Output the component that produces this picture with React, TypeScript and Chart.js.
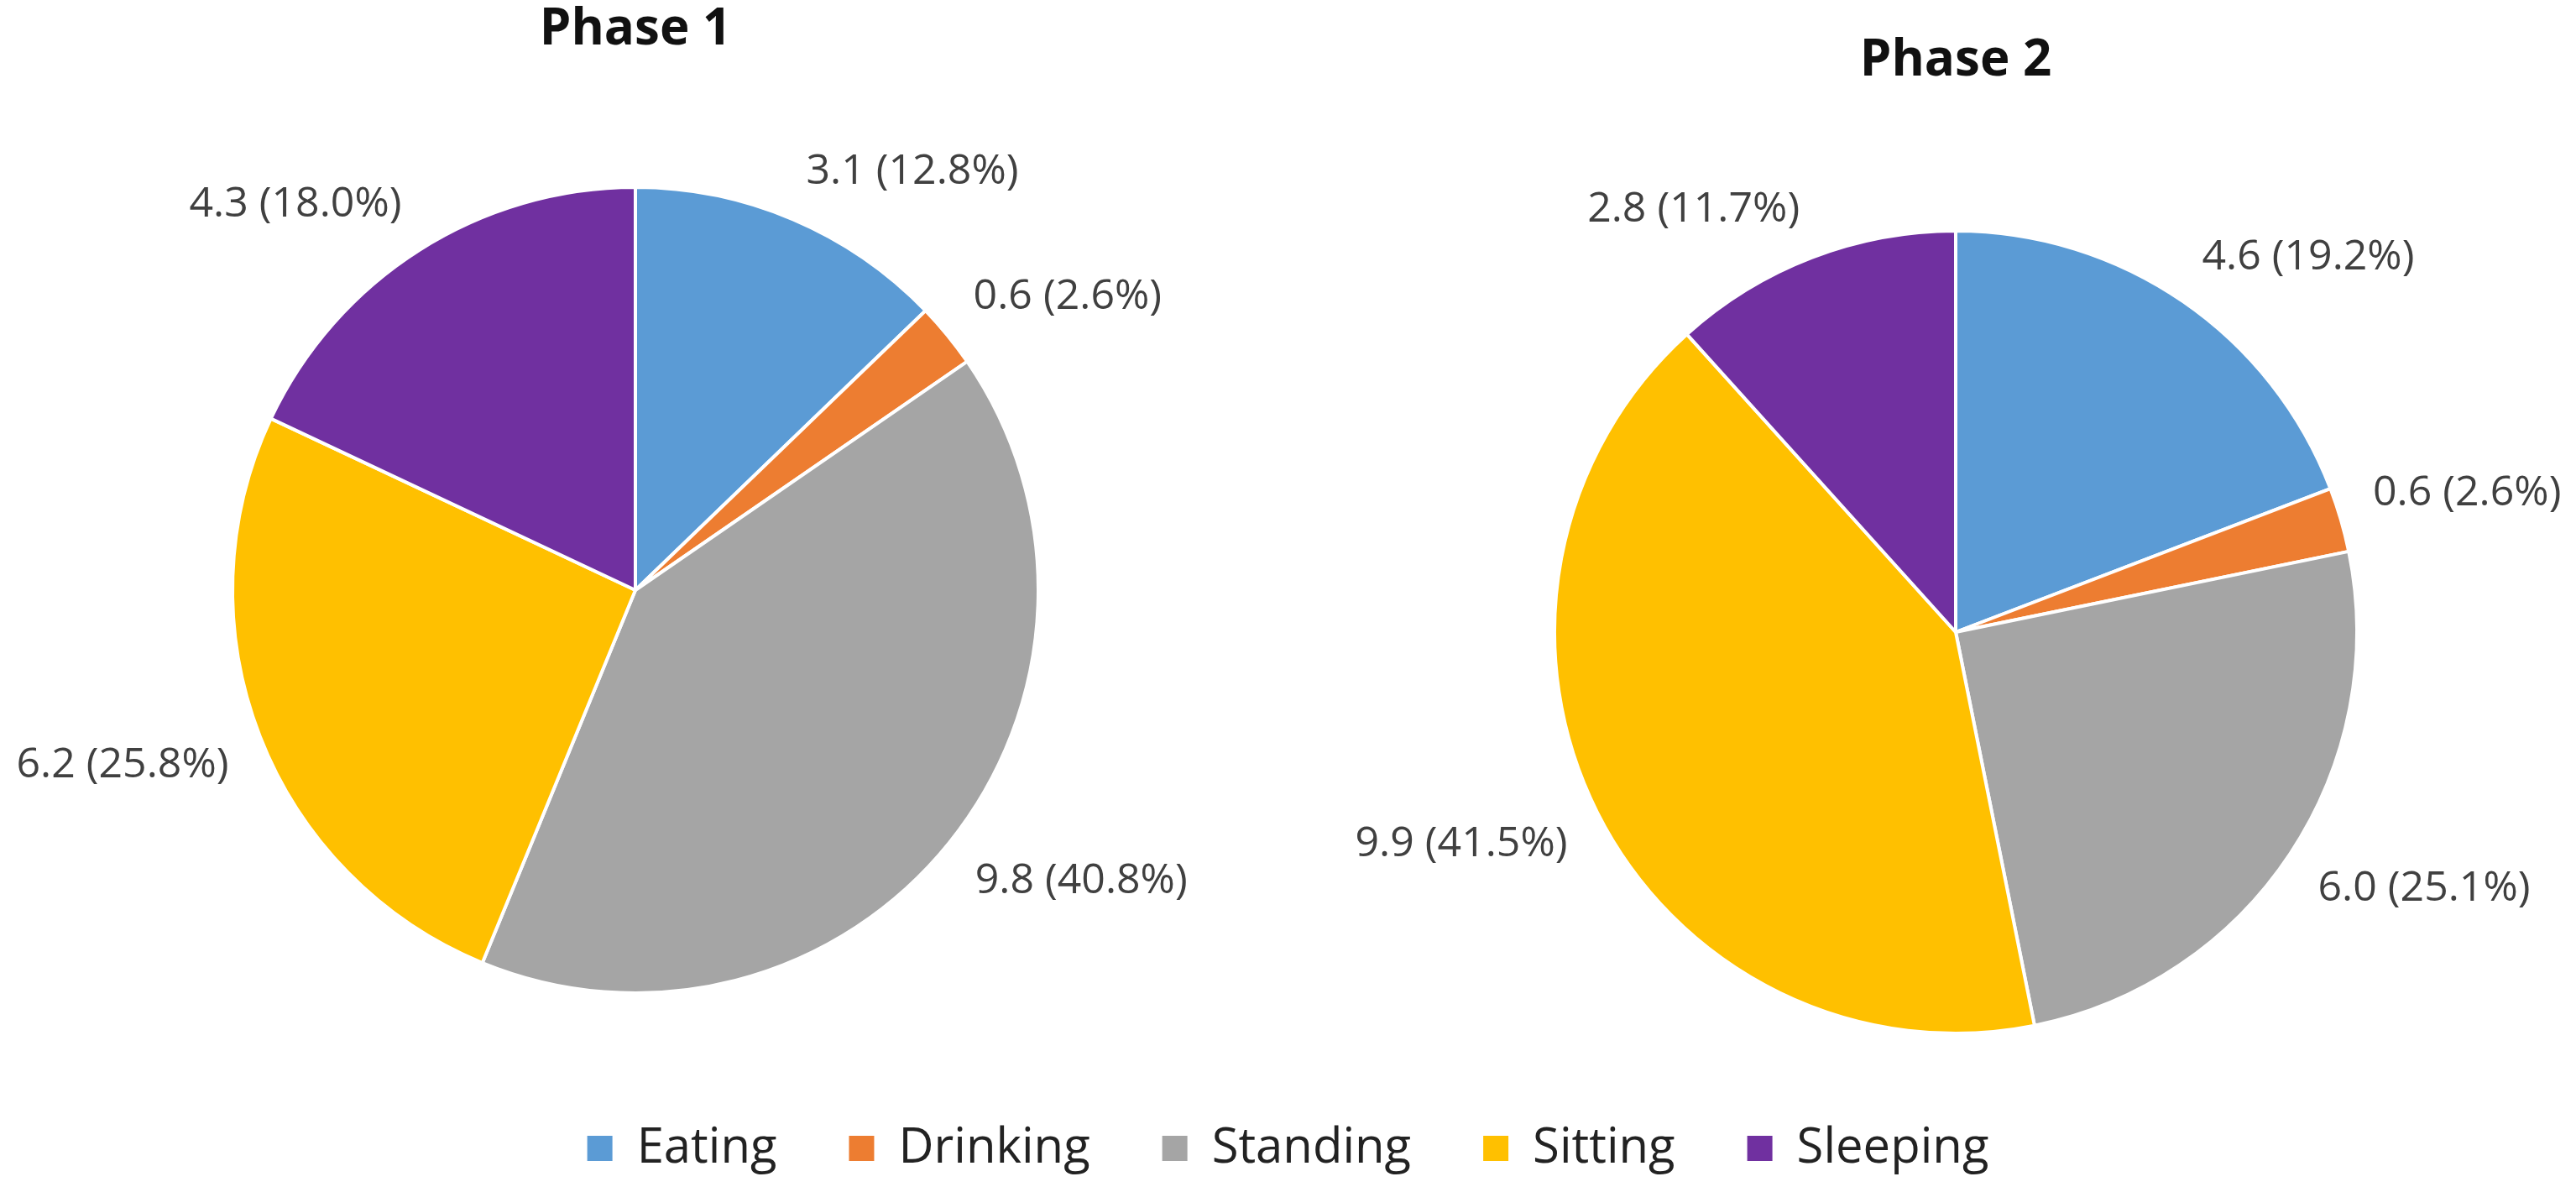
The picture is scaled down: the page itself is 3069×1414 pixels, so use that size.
import React, { useEffect, useRef } from "react";
import { Chart, ArcElement, PieController, Title, Legend } from "chart.js";

Chart.register(ArcElement, PieController, Title, Legend);

// categories and colours shared by both pies
const categories = ["Eating", "Drinking", "Standing", "Sitting", "Sleeping"];
const colors = ["#5B9BD5", "#ED7D31", "#A5A5A5", "#FFC000", "#7030A0"];

// hours per day and share of the day
const phase1Hours = [3.1, 0.6, 9.8, 6.2, 4.3];
const phase1Pct = [12.8, 2.6, 40.8, 25.8, 18.0];
const phase2Hours = [4.6, 0.6, 6.0, 9.9, 2.8];
const phase2Pct = [19.2, 2.6, 25.1, 41.5, 11.7];

const FONT = "'Open Sans', 'Noto Sans', sans-serif";

// labels outside each slice, "hours (pct%)"
const outsideLabels = {
  id: "outsideLabels",
  afterDatasetsDraw(chart: any, _args: any, opts: any) {
    const { ctx } = chart;
    const meta = chart.getDatasetMeta(0);
    ctx.save();
    ctx.font = `50px ${FONT}`;
    ctx.fillStyle = "#404040";
    ctx.textBaseline = "middle";
    meta.data.forEach((arc: any, i: number) => {
      const { x, y, startAngle, endAngle, outerRadius } = arc.getProps(
        ["x", "y", "startAngle", "endAngle", "outerRadius"],
        true
      );
      const mid = (startAngle + endAngle) / 2;
      const r = outerRadius * 1.083;
      const px = x + r * Math.cos(mid);
      const py = y + r * Math.sin(mid);
      ctx.textAlign = Math.cos(mid) >= 0 ? "left" : "right";
      const ty = Math.sin(mid) < 0 ? py - 20 : py + 20;
      const text = `${opts.hours[i].toFixed(1)} (${opts.pct[i].toFixed(1)}%)`;
      ctx.fillText(text, px, ty);
    });
    ctx.restore();
  }
};

const makePie = (
  canvas: HTMLCanvasElement,
  title: string,
  hours: number[],
  pct: number[],
  padTop: number,
  padBottom: number
) =>
  new Chart(canvas, {
    type: "pie",
    data: {
      labels: categories,
      datasets: [
        {
          data: pct,
          backgroundColor: colors,
          borderColor: "#ffffff",
          borderWidth: 4
        }
      ]
    },
    options: {
      animation: false,
      responsive: true,
      maintainAspectRatio: false,
      events: [],
      plugins: {
        legend: { display: false },
        title: {
          display: true,
          text: title,
          color: "#111111",
          font: { family: FONT, size: 60, weight: "bold" },
          padding: { top: padTop, bottom: padBottom }
        },
        // @ts-ignore
        outsideLabels: { hours, pct }
      }
    },
    plugins: [outsideLabels as any]
  });

const App: React.FC = () => {
  const leftRef = useRef<HTMLCanvasElement>(null);
  const rightRef = useRef<HTMLCanvasElement>(null);
  const legendRef = useRef<HTMLCanvasElement>(null);

  useEffect(() => {
    if (!leftRef.current || !rightRef.current || !legendRef.current) return;

    const left = makePie(leftRef.current, "Phase 1", phase1Hours, phase1Pct, 0, 149);
    const right = makePie(rightRef.current, "Phase 2", phase2Hours, phase2Pct, 37, 164);

    // shared legend underneath both pies (the pie itself has no radius)
    const legend = new Chart(legendRef.current, {
      type: "pie",
      data: {
        labels: categories,
        datasets: [{ data: phase1Pct, backgroundColor: colors, borderWidth: 0, radius: 0 }]
      },
      options: {
        animation: false,
        responsive: true,
        maintainAspectRatio: false,
        events: [],
        plugins: {
          title: { display: false },
          legend: {
            display: true,
            position: "top",
            maxHeight: 200,
            labels: {
              color: "#222222",
              font: { family: FONT, size: 58 },
              boxWidth: 30,
              boxHeight: 30,
              padding: 86
            }
          }
        }
      }
    });

    return () => {
      left.destroy();
      right.destroy();
      legend.destroy();
    };
  }, []);

  return (
    <div
      style={{
        position: "absolute",
        left: 0,
        top: 0,
        width: 3069,
        height: 1414,
        background: "#ffffff",
        overflow: "hidden"
      }}
    >
      <div style={{ position: "absolute", left: 0, top: 0, width: 1514, height: 1185 }}>
        <canvas ref={leftRef}></canvas>
      </div>
      <div style={{ position: "absolute", left: 1591, top: 0, width: 1478, height: 1233 }}>
        <canvas ref={rightRef}></canvas>
      </div>
      <div style={{ position: "absolute", left: 0, top: 1253, width: 3069, height: 161 }}>
        <canvas ref={legendRef}></canvas>
      </div>
    </div>
  );
};

export default App;
